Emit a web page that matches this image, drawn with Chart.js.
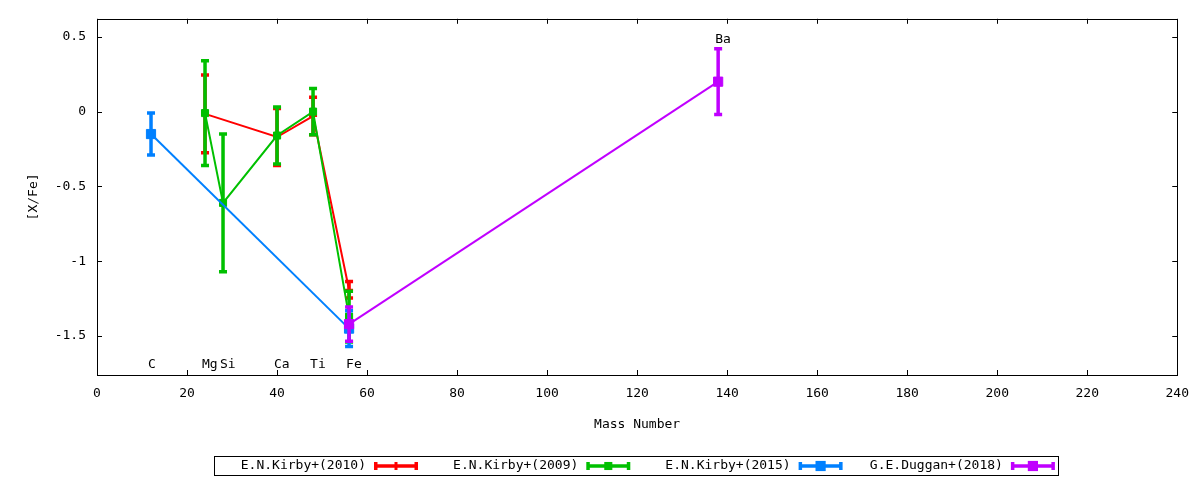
<!DOCTYPE html>
<html>
<head>
<meta charset="utf-8">
<script src="https://cdn.jsdelivr.net/npm/chart.js@4.4.0/dist/chart.umd.min.js"></script>
<style>
  html, body { margin: 0; padding: 0; background: #fff; }
</style>
</head>
<body>
<canvas id="abundanceChart" width="1200" height="480"></canvas>
<script>
// Element labels along the plot
const elementNames = ['C', 'Mg', 'Si', 'Ca', 'Ti', 'Fe', 'Ba'];
const elementMass = [12, 24, 28, 40, 48, 56, 138];
const elementLabelY = [-1.69, -1.69, -1.69, -1.69, -1.69, -1.69, 0.48];

// E.N.Kirby+(2010)
const kirby2010Mass = [24, 40, 48, 56];
const kirby2010Val = [-0.015, -0.17, -0.03, -1.19];
const kirby2010Err = [0.26, 0.19, 0.125, 0.055];

// E.N.Kirby+(2009)
const kirby2009Mass = [24, 28, 40, 48, 56];
const kirby2009Val = [-0.01, -0.61, -0.16, 0.0, -1.37];
const kirby2009Err = [0.35, 0.46, 0.19, 0.155, 0.17];

// E.N.Kirby+(2015)
const kirby2015Mass = [12, 56];
const kirby2015Val = [-0.15, -1.45];
const kirby2015Err = [0.14, 0.12];

// G.E.Duggan+(2018)
const duggan2018Mass = [56, 138];
const duggan2018Val = [-1.42, 0.20];
const duggan2018Err = [0.115, 0.22];

const xTicks = [0, 20, 40, 60, 80, 100, 120, 140, 160, 180, 200, 220, 240];
const yTicks = [-1.5, -1, -0.5, 0, 0.5];

const FONT = "'DejaVu Sans Mono', monospace";
Chart.defaults.color = '#000';
Chart.defaults.font.family = FONT;
Chart.defaults.font.size = 13;

function points(xs, ys) {
  return xs.map((x, i) => ({ x: x, y: ys[i] }));
}

function makeSeries(label, color, xs, ys, errs, style, radius, order) {
  return {
    label: label,
    data: points(xs, ys),
    errors: errs,
    showLine: true,
    borderColor: color,
    backgroundColor: color,
    borderWidth: 2,
    pointStyle: style,
    pointRadius: radius,
    pointHoverRadius: radius,
    pointBorderWidth: style === 'cross' ? 2 : 1,
    pointBackgroundColor: color,
    pointBorderColor: color,
    order: order
  };
}

const datasets = [
  makeSeries('E.N.Kirby+(2010)', '#ff0000', kirby2010Mass, kirby2010Val, kirby2010Err, 'cross', 4, 4),
  makeSeries('E.N.Kirby+(2009)', '#00c000', kirby2009Mass, kirby2009Val, kirby2009Err, 'rect', 5, 3),
  makeSeries('E.N.Kirby+(2015)', '#0080ff', kirby2015Mass, kirby2015Val, kirby2015Err, 'rect', 6.5, 2),
  makeSeries('G.E.Duggan+(2018)', '#c000ff', duggan2018Mass, duggan2018Val, duggan2018Err, 'rect', 6.5, 1)
];

// vertical error bars with caps, drawn right after each dataset
const errorBarPlugin = {
  id: 'errorBars',
  afterDatasetDraw(chart, args) {
    const ds = chart.data.datasets[args.index];
    if (!ds.errors) return;
    const ctx = chart.ctx;
    const xs = chart.scales.x, ys = chart.scales.y;
    ctx.save();
    ctx.strokeStyle = ds.borderColor;
    ctx.lineWidth = 3.5;
    ds.data.forEach((p, i) => {
      const px = xs.getPixelForValue(p.x);
      const top = ys.getPixelForValue(p.y + ds.errors[i]);
      const bot = ys.getPixelForValue(p.y - ds.errors[i]);
      ctx.beginPath();
      ctx.moveTo(px, top); ctx.lineTo(px, bot);
      ctx.moveTo(px - 4, top); ctx.lineTo(px + 4, top);
      ctx.moveTo(px - 4, bot); ctx.lineTo(px + 4, bot);
      ctx.stroke();
    });
    ctx.restore();
  }
};

// gnuplot style frame with inward ticks on all sides
const framePlugin = {
  id: 'frame',
  beforeDatasetsDraw(chart) {
    const { ctx, chartArea: a } = chart;
    const xs = chart.scales.x, ys = chart.scales.y;
    ctx.save();
    ctx.strokeStyle = '#000';
    ctx.lineWidth = 1;
    ctx.strokeRect(Math.round(a.left) + 0.5, Math.round(a.top) + 0.5,
      Math.round(a.right - a.left), Math.round(a.bottom - a.top));
    ctx.beginPath();
    xTicks.forEach(v => {
      const px = Math.round(xs.getPixelForValue(v)) + 0.5;
      ctx.moveTo(px, a.bottom); ctx.lineTo(px, a.bottom - 5);
      ctx.moveTo(px, a.top); ctx.lineTo(px, a.top + 5);
    });
    yTicks.forEach(v => {
      const py = Math.round(ys.getPixelForValue(v)) + 0.5;
      ctx.moveTo(a.left, py); ctx.lineTo(a.left + 5, py);
      ctx.moveTo(a.right, py); ctx.lineTo(a.right - 5, py);
    });
    ctx.stroke();
    ctx.restore();
  }
};

// element name labels
const labelPlugin = {
  id: 'elementLabels',
  afterDatasetsDraw(chart) {
    const ctx = chart.ctx;
    const xs = chart.scales.x, ys = chart.scales.y;
    ctx.save();
    ctx.font = '13px ' + FONT;
    ctx.fillStyle = '#000';
    ctx.textAlign = 'left';
    ctx.textBaseline = 'middle';
    elementNames.forEach((name, i) => {
      ctx.fillText(name, xs.getPixelForValue(elementMass[i]) - 3, ys.getPixelForValue(elementLabelY[i]));
    });
    ctx.restore();
  }
};

// horizontal boxed legend: text then sample
const legendPlugin = {
  id: 'gpLegend',
  afterDraw(chart) {
    const ctx = chart.ctx;
    const boxL = 214, boxT = 456, boxW = 844, boxH = 19;
    const cy = boxT + boxH / 2 + 0.5;
    ctx.save();
    ctx.strokeStyle = '#000';
    ctx.lineWidth = 1;
    ctx.strokeRect(boxL + 0.5, boxT + 0.5, boxW, boxH);
    ctx.font = '13px ' + FONT;
    ctx.textAlign = 'right';
    ctx.textBaseline = 'middle';
    chart.data.datasets.forEach((ds, i) => {
      const textRight = 366 + i * 212.3;
      ctx.fillStyle = '#000';
      ctx.fillText(ds.label, textRight, cy);
      const x0 = textRight + 8, x1 = x0 + 44, xm = (x0 + x1) / 2;
      ctx.strokeStyle = ds.borderColor;
      ctx.fillStyle = ds.borderColor;
      ctx.lineWidth = 3.5;
      ctx.beginPath();
      ctx.moveTo(x0, cy); ctx.lineTo(x1, cy);
      ctx.moveTo(x0 + 1.75, cy - 4); ctx.lineTo(x0 + 1.75, cy + 4);
      ctx.moveTo(x1 - 1.75, cy - 4); ctx.lineTo(x1 - 1.75, cy + 4);
      ctx.stroke();
      if (ds.pointStyle === 'cross') {
        ctx.lineWidth = 3;
        ctx.beginPath();
        ctx.moveTo(xm, cy - 4); ctx.lineTo(xm, cy + 4);
        ctx.stroke();
      } else {
        const s = ds.pointRadius * Math.SQRT1_2 + 0.5;
        ctx.fillRect(xm - s, cy - s, 2 * s, 2 * s);
      }
    });
    ctx.restore();
  }
};

new Chart(document.getElementById('abundanceChart'), {
  type: 'scatter',
  data: { datasets: datasets },
  plugins: [framePlugin, errorBarPlugin, labelPlugin, legendPlugin],
  options: {
    responsive: false,
    animation: false,
    layout: { padding: { left: 0, right: 20, top: 15, bottom: 48 } },
    plugins: {
      legend: { display: false },
      tooltip: { enabled: false }
    },
    scales: {
      x: {
        type: 'linear',
        min: 0,
        max: 240,
        afterFit: s => { s.height = 57; },
        afterBuildTicks: s => { s.ticks = xTicks.map(v => ({ value: v })); },
        grid: { display: false, drawTicks: false },
        border: { display: false },
        ticks: { padding: 11, maxRotation: 0 },
        title: { display: true, text: 'Mass Number', padding: { top: 0, bottom: 0 } }
      },
      y: {
        type: 'linear',
        min: -1.76,
        max: 0.62,
        afterFit: s => { s.width = 97; },
        afterBuildTicks: s => { s.ticks = yTicks.map(v => ({ value: v })); },
        grid: { display: false, drawTicks: false },
        border: { display: false },
        ticks: { padding: 11, callback: v => String(v) },
        title: { display: true, text: '[X/Fe]', padding: { top: 26, bottom: 0 } }
      }
    }
  }
});
</script>
</body>
</html>
